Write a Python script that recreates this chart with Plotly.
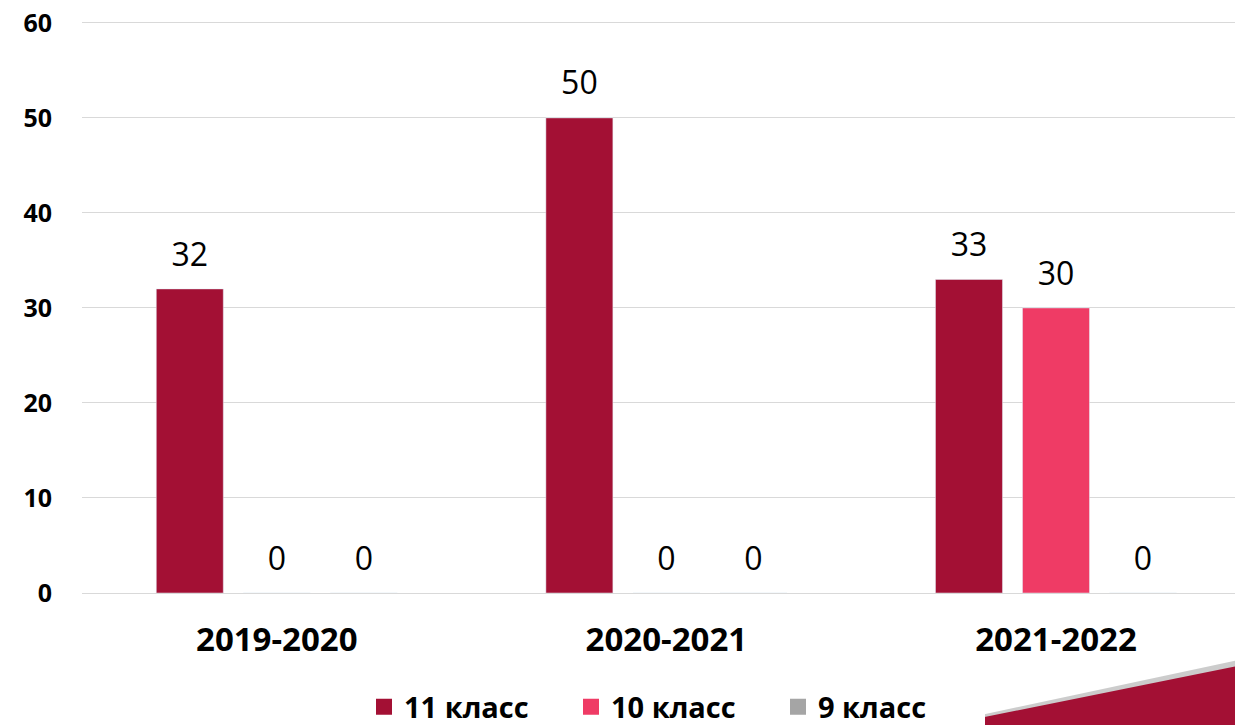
import plotly.graph_objects as go

categories = ["2019-2020", "2020-2021", "2021-2022"]
series_names = ["11 класс", "10 класс", "9 класс"]
values_11 = [32, 50, 33]
values_10 = [0, 0, 30]
values_9 = [0, 0, 0]
colors = ["#A31034", "#EF3B65", "#A5A5A5"]
y_ticks = [0, 10, 20, 30, 40, 50, 60]

FONT = "Open Sans"
LABEL_LIFT = 1.2  # gap (in axis units) between bar top and its value label
Y_MAX = 60.3      # tiny headroom so the 60 gridline is drawn

fig = go.Figure()
for i, (name, vals, col) in enumerate(zip(series_names, [values_11, values_10, values_9], colors)):
    g = f"g{i}"
    fig.add_trace(go.Bar(
        x=categories, y=vals, name=name, marker_color=col, offsetgroup=g,
        showlegend=False,
    ))
    # transparent spacer bar carrying the value label a little above the bar
    fig.add_trace(go.Bar(
        x=categories, y=[LABEL_LIFT] * len(vals), base=vals, offsetgroup=g,
        marker=dict(color="rgba(0,0,0,0)", line=dict(width=0)),
        text=vals, textposition="outside", cliponaxis=False,
        textfont=dict(family=FONT, size=32, color="#000000"),
        showlegend=False, hoverinfo="skip",
    ))
    # legend entry with a larger square swatch
    fig.add_trace(go.Scatter(
        x=[None], y=[None], mode="markers", name=name,
        marker=dict(symbol="square", size=18, color=col),
    ))

# page body has an 8px margin; size the figure so it fits the 1243x725 window
OFF = 8
W, H = 1243 - OFF, 725 - OFF
PX_PER_UNIT = 9.5
top_win = 593 - Y_MAX * PX_PER_UNIT
L, T = 82 - OFF, int(round(top_win - OFF))
B = H - (593 - OFF)
R = 0
ph = H - T - B

def py(pix):
    return (H - B - (pix - OFF)) / ph

def px(pix):
    return (pix - OFF - L) / (W - L - R)

# decorative corner band with shadow
fig.add_shape(type="path", xref="paper", yref="paper", layer="above",
              path=f"M {px(925)} {py(727)} L {px(1243)} {py(659)} L {px(1243)} {py(667)} L {px(925)} {py(732)} Z",
              fillcolor="rgba(110,110,110,0.35)", line=dict(width=0))
fig.add_shape(type="path", xref="paper", yref="paper", layer="above",
              path=f"M {px(940)} {py(726)} L {px(1243)} {py(665)} L {px(1243)} {py(726)} Z",
              fillcolor="#A31034", line=dict(width=0))

fig.update_layout(
    width=W, height=H,
    margin=dict(l=L, r=R, t=T, b=B, autoexpand=False),
    paper_bgcolor="white", plot_bgcolor="white",
    barmode="group", bargap=0.33, bargroupgap=0.23,
    font=dict(family=FONT, color="#000000"),
    legend=dict(orientation="h", x=px(364), xanchor="left", y=py(707), yanchor="middle",
                font=dict(family=FONT, size=29, color="#000000", weight="bold"),
                itemwidth=30, traceorder="normal", tracegroupgap=0,
                entrywidth=162, entrywidthmode="pixels"),
    xaxis=dict(range=[-0.5, 2.48], showgrid=False, showline=False, ticks="", automargin=False,
               ticklabelstandoff=24,
               tickfont=dict(family=FONT, size=33, color="#000000", weight="bold")),
    yaxis=dict(range=[0, Y_MAX], tickvals=y_ticks, showgrid=True, gridcolor="#D9D9D9", gridwidth=1,
               zeroline=True, zerolinecolor="#D9D9D9", zerolinewidth=1, showline=False, ticks="",
               automargin=False, ticklabelstandoff=29, ticklabeloverflow="allow",
               tickfont=dict(family=FONT, size=25, color="#000000", weight="bold")),
)

fig.write_html("out.html")
